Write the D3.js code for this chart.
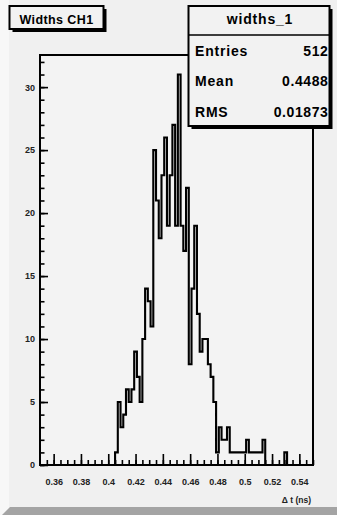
<!DOCTYPE html>
<html><head><meta charset="utf-8">
<script src="https://cdn.jsdelivr.net/npm/d3@7"></script>
<style>html,body{margin:0;padding:0;background:#f0f0f0;}svg{display:block;}</style>
</head><body>
<svg id="c" width="337" height="515"></svg>
<script>
// ---- data ----
const binCenters = [0.406,0.408,0.410,0.412,0.414,0.416,0.418,0.420,0.422,0.424,
  0.426,0.428,0.430,0.432,0.434,0.436,0.438,0.440,0.442,0.444,
  0.446,0.448,0.450,0.452,0.454,0.456,0.458,0.460,0.462,0.464,
  0.466,0.468,0.470,0.472,0.474,0.476,0.478,0.480,0.482,0.484,
  0.486,0.488,0.490,0.492,0.494,0.496,0.498,0.500,0.502,0.504,
  0.506,0.508,0.510,0.512,0.514,0.516,0.518,0.520,0.522,0.524,
  0.526,0.528,0.530];
const counts = [1,5,3,4,6,5,6,9,7,5,
  10,14,13,11,25,21,18,23,26,19,
  23,27,19,31,19,17,22,8,14,19,
  12,9,10,10,8,7,5,1,3,2,
  2,3,1,1,1,1,1,1,2,1,
  1,1,1,1,2,0,0,0,0,0,
  0,0,1];
const binWidth = 0.002;
const xTickValues = [0.36,0.38,0.40,0.42,0.44,0.46,0.48,0.50,0.52,0.54];
const xTickLabels = ["0.36","0.38","0.4","0.42","0.44","0.46","0.48","0.5","0.52","0.54"];
const yTickValues = [0,5,10,15,20,25,30];
const yTickLabels = ["0","5","10","15","20","25","30"];
const xDomain = [0.35,0.55];
const yDomain = [0,32.55];
const titleText = "Widths CH1";
const statsTitle = "widths_1";
const statNames = ["Entries","Mean","RMS"];
const statValues = ["512","0.4488","0.01873"];
const xTitle = "\u0394 t (ns)";

// ---- drawing ----
const W = 337, H = 515;
const FONT = "'Liberation Sans', Arial, Helvetica, sans-serif";
const svg = d3.select("#c");
svg.append("rect").attr("width", W).attr("height", H).attr("fill", "#f0f0f0");
svg.append("rect").attr("x",0).attr("y",0).attr("width",9).attr("height",H).attr("fill","#f7f7f7");
svg.append("polygon").attr("points", [[2,515],[337,515],[337,507],[10,507]].map(p=>p.join(",")).join(" "))
  .attr("fill", "#a4a4a4");

const L = 40, R = 313, T = 55, B = 465;
const x = d3.scaleLinear().domain(xDomain).range([L, R]);
const y = d3.scaleLinear().domain(yDomain).range([B, T]);

// frame background
svg.append("rect").attr("x", L).attr("y", T).attr("width", R-L).attr("height", B-T).attr("fill", "#f3f3f3");

// histogram outline
const pts = [[binCenters[0]-binWidth/2, 0]];
binCenters.forEach((c,i) => { pts.push([c-binWidth/2, counts[i]]); pts.push([c+binWidth/2, counts[i]]); });
pts.push([binCenters[binCenters.length-1]+binWidth/2, 0]);
const line = d3.line().x(d => x(d[0])).y(d => y(d[1]));
svg.append("path").attr("d", line(pts)).attr("fill","none").attr("stroke","#000")
  .attr("stroke-width",2.1).attr("stroke-linejoin","miter");

// x axis ticks
const minorX = d3.range(0.355, 0.5501, 0.005);
const gxm = svg.append("g").attr("transform", `translate(0,${B})`)
  .call(d3.axisBottom(x).tickValues(minorX).tickSize(-5).tickFormat(""));
const gx = svg.append("g").attr("transform", `translate(0,${B})`)
  .call(d3.axisBottom(x).tickValues(xTickValues).tickSize(-11).tickPadding(14)
    .tickFormat((d,i) => xTickLabels[i]));
// y axis ticks
const minorY = d3.range(0, 33, 1);
const gym = svg.append("g").attr("transform", `translate(${L},0)`)
  .call(d3.axisLeft(y).tickValues(minorY).tickSize(-4.5).tickFormat(""));
const gy = svg.append("g").attr("transform", `translate(${L},0)`)
  .call(d3.axisLeft(y).tickValues(yTickValues).tickSize(-8).tickPadding(5)
    .tickFormat((d,i) => yTickLabels[i]));
[gxm,gx,gym,gy].forEach(g => {
  g.select(".domain").remove();
  g.selectAll(".tick line").attr("stroke","#000").attr("stroke-width",1.6);
  g.selectAll("text").attr("fill","#222").style("font-family",FONT).style("font-weight","bold").style("font-size","9px");
});

// frame
svg.append("rect").attr("x", L).attr("y", T).attr("width", R-L).attr("height", B-T)
  .attr("fill","none").attr("stroke","#000").attr("stroke-width",2);

// axis title
svg.append("text").attr("x", 311).attr("y", 503).attr("text-anchor","end").attr("fill","#222")
  .style("font-family",FONT).style("font-weight","bold").style("font-size","8.5px").text(xTitle);

// title box
function box(x0,y0,w,h){
  svg.append("rect").attr("x",x0+3).attr("y",y0+3).attr("width",w).attr("height",h).attr("fill","#000");
  svg.append("rect").attr("x",x0).attr("y",y0).attr("width",w).attr("height",h)
    .attr("fill","#f2f2f2").attr("stroke","#000").attr("stroke-width",2);
}
box(9.5, 6, 94, 23);
svg.append("text").attr("x", 56.5).attr("y", 23.5).attr("text-anchor","middle")
  .style("font-family",FONT).style("font-weight","bold").style("font-size","12.5px")
  .style("letter-spacing","0.4px").text(titleText);

// stats box
box(188.5, 6, 141, 120);
svg.append("line").attr("x1",188.5).attr("x2",329.5).attr("y1",35).attr("y2",35)
  .attr("stroke","#000").attr("stroke-width",1.5);
svg.append("text").attr("x", 260).attr("y", 24).attr("text-anchor","middle")
  .style("font-family",FONT).style("font-weight","bold").style("font-size","14px")
  .style("letter-spacing","0.8px").text(statsTitle);
const rowY = [56, 86, 116.5];
statNames.forEach((n,i) => {
  svg.append("text").attr("x",195).attr("y",rowY[i])
    .style("font-family",FONT).style("font-weight","bold").style("font-size","14px")
    .style("letter-spacing","0.8px").text(n);
  svg.append("text").attr("x",328.5).attr("y",rowY[i]).attr("text-anchor","end")
    .style("font-family",FONT).style("font-weight","bold").style("font-size","14px")
    .style("letter-spacing","0.6px").text(statValues[i]);
});
</script>
</body></html>
